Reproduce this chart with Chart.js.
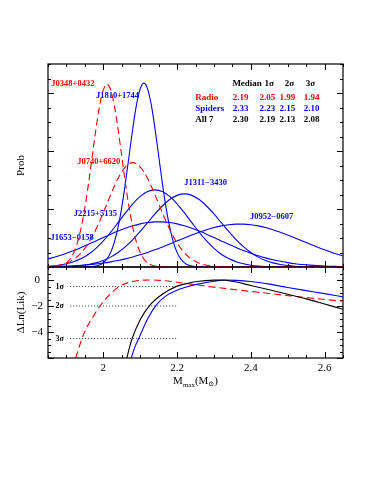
<!DOCTYPE html>
<html><head><meta charset="utf-8">
<script src="https://cdn.jsdelivr.net/npm/chart.js@4.4.1/dist/chart.umd.min.js"></script>
<style>
html,body{margin:0;padding:0;background:#fff;}
#wrap{position:relative;width:374px;height:484px;background:#fff;}
canvas{position:absolute;left:0;top:0;}
</style></head><body>
<div id="wrap"><canvas id="topc" width="374" height="484"></canvas><canvas id="botc" width="374" height="484"></canvas></div>
<script>
// ---------- DATA ----------
const fineMass = [1.84,1.85,1.86,1.87,1.88,1.89,1.90,1.91,1.92,1.93,1.94,1.95,1.96,1.97,1.98,1.99,2.00,2.01,2.02,2.03,2.04,2.05,2.06,2.07,2.08,2.09,2.10,2.11,2.12,2.13,2.14,2.15,2.16,2.17,2.18,2.19,2.20,2.21,2.22,2.23,2.24,2.25,2.26,2.27,2.28,2.66];
const coarseMass = [1.84,1.86,1.88,1.90,1.92,1.94,1.96,1.98,2.00,2.02,2.04,2.06,2.08,2.10,2.12,2.14,2.16,2.18,2.20,2.22,2.24,2.26,2.28,2.30,2.32,2.34,2.36,2.38,2.40,2.42,2.44,2.46,2.48,2.50,2.52,2.54,2.56,2.58,2.60,2.62,2.64,2.66];

const probJ0348 = [0,0.001,0.003,0.007,0.016,0.035,0.072,0.138,0.251,0.426,0.681,1.023,1.442,1.910,2.378,2.780,3.053,3.150,3.053,2.780,2.378,1.910,1.442,1.023,0.681,0.426,0.251,0.138,0.072,0.035,0.016,0.007,0.003,0.001,0,0,0,0,0,0,0,0,0,0,0,0];
const probJ1810 = [0,0,0,0,0,0,0,0,0,0,0,0.001,0.003,0.007,0.016,0.035,0.072,0.139,0.252,0.429,0.686,1.029,1.451,1.923,2.393,2.798,3.072,3.170,3.072,2.798,2.393,1.923,1.451,1.029,0.686,0.429,0.252,0.139,0.072,0.035,0.016,0.007,0.003,0.001,0,0];
const probJ0740 = [0.005,0.013,0.030,0.066,0.132,0.244,0.414,0.649,0.937,1.247,1.529,1.728,1.800,1.728,1.529,1.247,0.937,0.649,0.414,0.244,0.132,0.066,0.030,0.013,0.005,0.002,0.001,0,0,0,0,0,0,0,0,0,0,0,0,0,0,0];
const probJ2215 = [0.009,0.017,0.031,0.055,0.091,0.145,0.221,0.322,0.449,0.599,0.764,0.933,1.090,1.217,1.301,1.330,1.301,1.217,1.090,0.933,0.764,0.599,0.449,0.322,0.221,0.145,0.091,0.055,0.031,0.017,0.009,0.005,0.002,0.001,0,0,0,0,0,0,0,0];
const probJ1311 = [0.001,0.002,0.004,0.008,0.014,0.025,0.043,0.071,0.112,0.170,0.249,0.350,0.473,0.613,0.764,0.915,1.052,1.163,1.235,1.260,1.235,1.163,1.052,0.915,0.764,0.613,0.473,0.350,0.249,0.170,0.112,0.071,0.043,0.025,0.014,0.008,0.004,0.002,0.001,0,0,0];
const probJ1653 = [0.125,0.157,0.195,0.237,0.285,0.337,0.392,0.450,0.508,0.565,0.619,0.668,0.711,0.744,0.767,0.778,0.778,0.767,0.744,0.711,0.668,0.619,0.565,0.508,0.450,0.392,0.337,0.285,0.237,0.195,0.157,0.125,0.098,0.076,0.057,0.043,0.032,0.023,0.016,0.012,0.008,0.005];
const probJ0952 = [0.006,0.008,0.012,0.016,0.022,0.030,0.040,0.053,0.069,0.089,0.112,0.140,0.173,0.210,0.251,0.296,0.345,0.396,0.449,0.501,0.552,0.600,0.643,0.680,0.709,0.729,0.739,0.739,0.729,0.709,0.680,0.643,0.600,0.552,0.501,0.449,0.396,0.345,0.296,0.251,0.210,0.173];

const radioMass  = [1.915,1.925,1.943,1.956,1.975,1.993,2.02,2.043,2.07,2.10,2.13,2.16,2.20,2.25,2.30,2.35,2.40,2.45,2.50,2.55,2.60,2.65,2.66];
const radioLnL   = [-6.8,-6.0,-4.44,-3.6,-2.7,-1.92,-1.05,-0.5,-0.18,-0.03,0,-0.04,-0.17,-0.36,-0.55,-0.72,-0.88,-1.04,-1.2,-1.35,-1.5,-1.64,-1.67];
const spiderMass = [2.07,2.076,2.085,2.097,2.12,2.144,2.17,2.20,2.23,2.26,2.30,2.33,2.36,2.40,2.45,2.50,2.55,2.60,2.65,2.66];
const spiderLnL  = [-6.7,-6.0,-5.2,-4.44,-3.0,-1.92,-1.22,-0.78,-0.5,-0.3,-0.1,0,-0.03,-0.12,-0.32,-0.58,-0.82,-1.05,-1.3,-1.35];
const allMass    = [2.058,2.064,2.07,2.079,2.10,2.127,2.16,2.197,2.23,2.26,2.30,2.32,2.35,2.40,2.45,2.50,2.55,2.60,2.65,2.66];
const allLnL     = [-6.8,-6.0,-5.3,-4.44,-3.05,-1.92,-1.1,-0.51,-0.25,-0.1,-0.01,0,-0.1,-0.42,-0.75,-1.1,-1.45,-1.85,-2.25,-2.33];

const xTickValues = [2, 2.2, 2.4, 2.6];
const lnLTickValues = [0, -2, -4];
const sigmaLevels = [-0.5, -2, -4.5];
const sigmaNames = ['1σ', '2σ', '3σ'];
const sigmaLineMass = [1.91, 2.2];
const curveNames = ['J0348+0432','J1810+1744','J0740+6620','J2215+5135','J1653\u22120158','J1311\u22123430','J0952\u22120607'];
const tableHeader = ['Median', '1σ', '2σ', '3σ'];
const tableRowNames = ['Radio', 'Spiders', 'All 7'];
const radioLimits  = [2.19, 2.05, 1.99, 1.94];
const spiderLimits = [2.33, 2.23, 2.15, 2.10];
const allLimits    = [2.30, 2.19, 2.13, 2.08];

// ---------- STYLE / HELPERS ----------
const RED = '#ff0000', BLUE = '#0000ff', BLACK = '#000000';
const SERIF = "'Liberation Serif','DejaVu Serif',serif";
function pts(xs, ys) { return xs.map((x, i) => ({x: x, y: ys[i]})); }
function line(data, color, dashed, order) {
  return {data: data, borderColor: color, borderWidth: 1.1, borderDash: dashed ? [7, 4] : [],
          pointRadius: 0, fill: false, cubicInterpolationMode: 'monotone', order: order};
}

function makeFrameTicks(yMinorStep, yMajorStep) {
  return {
    id: 'frameTicks',
    beforeDatasetsDraw(chart) {
      const {ctx, chartArea: a, scales} = chart;
      const x = scales.x, y = scales.y;
      ctx.save();
      ctx.strokeStyle = BLACK; ctx.lineWidth = 1.2;
      ctx.strokeRect(a.left, a.top, a.right - a.left, a.bottom - a.top);
      ctx.lineWidth = 1;
      ctx.beginPath();
      for (let i = 0; ; i++) {
        const v = Math.round((x.min + 0.05 * i) * 1000) / 1000;
        if (v > x.max + 1e-9) break;
        const major = Math.abs(v / 0.2 - Math.round(v / 0.2)) < 1e-6;
        const len = major ? 6 : 3;
        const px = Math.round(x.getPixelForValue(v)) + 0.5;
        ctx.moveTo(px, a.bottom); ctx.lineTo(px, a.bottom - len);
        ctx.moveTo(px, a.top); ctx.lineTo(px, a.top + len);
      }
      for (let i = 0; ; i++) {
        const v = Math.round((y.min + yMinorStep * i) * 1000) / 1000;
        if (v > y.max + 1e-9) break;
        const major = Math.abs(v / yMajorStep - Math.round(v / yMajorStep)) < 1e-6;
        const len = major ? 6 : 3;
        const py = Math.round(y.getPixelForValue(v)) + 0.5;
        ctx.moveTo(a.left, py); ctx.lineTo(a.left + len, py);
        ctx.moveTo(a.right, py); ctx.lineTo(a.right - len, py);
      }
      ctx.stroke();
      ctx.restore();
    }
  };
}

// ---------- TOP PANEL ----------
const labelAnchors = [[1.859,3.167],[1.980,2.953],[1.929,1.816],[1.920,0.922],[1.857,0.495],[2.2196,1.453],[2.398,0.857]];
const labelColors = [RED, BLUE, RED, BLUE, BLUE, BLUE, BLUE];
const topText = {
  id: 'topText',
  afterDraw(chart) {
    const {ctx, scales: {x, y}} = chart;
    ctx.save();
    ctx.textBaseline = 'middle'; ctx.textAlign = 'left';
    ctx.font = 'bold 8.5px ' + SERIF;
    curveNames.forEach((n, i) => {
      ctx.fillStyle = labelColors[i];
      ctx.fillText(n, x.getPixelForValue(labelAnchors[i][0]), y.getPixelForValue(labelAnchors[i][1]));
    });
    ctx.font = 'bold 9px ' + SERIF;
    const headX = [2.350, 2.437, 2.492, 2.549];
    ctx.fillStyle = BLACK;
    tableHeader.forEach((h, i) => ctx.fillText(h, x.getPixelForValue(headX[i]), y.getPixelForValue(3.167)));
    const colX = [2.351, 2.4237, 2.4781, 2.5434];
    const rowY = [2.919, 2.736, 2.534];
    const rows = [radioLimits, spiderLimits, allLimits];
    const rowColors = [RED, BLUE, BLACK];
    rows.forEach((r, j) => {
      ctx.fillStyle = rowColors[j];
      const py = y.getPixelForValue(rowY[j]);
      ctx.fillText(tableRowNames[j], x.getPixelForValue(2.2495), py);
      r.forEach((v, i) => ctx.fillText(v.toFixed(2), x.getPixelForValue(colX[i]), py));
    });
    ctx.restore();
  }
};

new Chart(document.getElementById('topc'), {
  type: 'line',
  data: {datasets: [
    line(pts(fineMass, probJ0348), RED, true, 1),
    line(pts(coarseMass, probJ0740), RED, true, 2),
    line(pts(fineMass, probJ1810), BLUE, false, 3),
    line(pts(coarseMass, probJ1311), BLUE, false, 4),
    line(pts(coarseMass, probJ2215), BLUE, false, 5),
    line(pts(coarseMass, probJ1653), BLUE, false, 6),
    line(pts(coarseMass, probJ0952), BLUE, false, 7)
  ]},
  options: {
    responsive: false, animation: false, devicePixelRatio: 1,
    layout: {padding: {top: 64, right: 31, bottom: 217, left: 0}},
    plugins: {legend: {display: false}, tooltip: {enabled: false}},
    scales: {
      x: {type: 'linear', min: 1.85, max: 2.65, display: false},
      y: {min: 0, max: 3.5, grid: {display: false, drawTicks: false}, border: {display: false},
          ticks: {display: false},
          title: {display: true, text: 'Prob', color: BLACK, font: {family: SERIF, size: 11}, padding: {top: 15, bottom: 0}},
          afterFit(s) { s.width = 48; }}
    }
  },
  plugins: [makeFrameTicks(0.25, 1), topText]
});

// ---------- BOTTOM PANEL ----------
const botText = {
  id: 'botText',
  afterDraw(chart) {
    const {ctx, chartArea: a, scales: {x, y}} = chart;
    ctx.save();
    ctx.fillStyle = BLACK;
    ctx.textBaseline = 'middle'; ctx.textAlign = 'left';
    ctx.font = 'bold 8px ' + SERIF;
    sigmaNames.forEach((n, i) => ctx.fillText(n, x.getPixelForValue(1.870), y.getPixelForValue(sigmaLevels[i])));
    // x-axis title M_max(M_sun)
    const parts = [['M', 11, 0], ['max', 7, 2.5], ['(M', 11, 0], ['\u2299', 7, 2], [')', 11, 0]];
    ctx.textBaseline = 'alphabetic';
    let w = 0;
    parts.forEach(p => { ctx.font = p[1] + 'px ' + SERIF; w += ctx.measureText(p[0]).width; });
    let px = (a.left + a.right) / 2 - w / 2;
    const py = a.bottom + 26;
    parts.forEach(p => { ctx.font = p[1] + 'px ' + SERIF; ctx.fillText(p[0], px, py + p[2]); px += ctx.measureText(p[0]).width; });
    ctx.restore();
  }
};

const sigmaSets = sigmaLevels.map(l => ({
  data: sigmaLineMass.map(m => ({x: m, y: l})), borderColor: '#333', borderWidth: 1,
  borderDash: [1, 2], pointRadius: 0, fill: false, order: 5
}));

new Chart(document.getElementById('botc'), {
  type: 'line',
  data: {datasets: [
    line(pts(allMass, allLnL), BLACK, false, 1),
    line(pts(spiderMass, spiderLnL), BLUE, false, 2),
    line(pts(radioMass, radioLnL), RED, true, 3)
  ].concat(sigmaSets)},
  options: {
    responsive: false, animation: false, devicePixelRatio: 1,
    layout: {padding: {top: 267, right: 31, bottom: 0, left: 0}},
    plugins: {legend: {display: false}, tooltip: {enabled: false}},
    scales: {
      x: {type: 'linear', min: 1.85, max: 2.65,
          grid: {display: false, drawTicks: false}, border: {display: false},
          afterBuildTicks(s) { s.ticks = xTickValues.map(v => ({value: v})); },
          ticks: {autoSkip: false, maxRotation: 0, padding: 4, color: BLACK,
                  font: {family: SERIF, size: 11},
                  callback: v => String(Math.round(v * 10) / 10)},
          afterFit(s) { s.height = 126; }},
      y: {min: -6, max: 1,
          grid: {display: false, drawTicks: false}, border: {display: false},
          afterBuildTicks(s) { s.ticks = lnLTickValues.map(v => ({value: v})); },
          ticks: {autoSkip: false, padding: 5, crossAlign: 'center', color: BLACK,
                  font: {family: SERIF, size: 11},
                  callback: v => v < 0 ? '\u2212' + Math.abs(v) : String(v)},
          title: {display: true, text: '\u0394Ln(Lik)', color: BLACK, font: {family: SERIF, size: 11}, padding: {top: 15, bottom: 0}},
          afterFit(s) { s.width = 48; }}
    }
  },
  plugins: [makeFrameTicks(0.5, 2), botText]
});
</script>
</body></html>
